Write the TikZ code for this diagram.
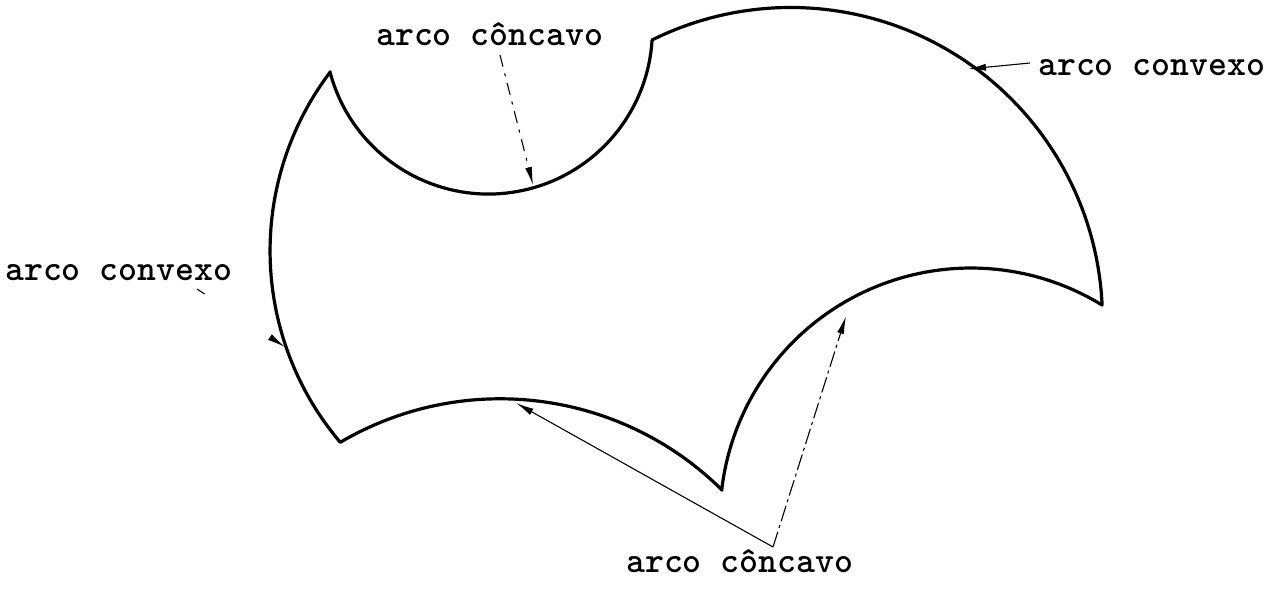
\documentclass[tikz,border=0pt]{standalone}
\usetikzlibrary{arrows.meta}
\begin{document}
\begin{tikzpicture}[x=1pt,y=1pt,
  outline/.style={line width=3.2pt, line join=round},
  leader/.style={line width=1.1pt, -{Latex[length=18pt,width=7pt]}},
  lbl/.style={font=\fontsize{36}{40}\selectfont\ttfamily\bfseries, inner sep=0pt, anchor=base west}]
\useasboundingbox (0,0) rectangle (1281,590);
% vertices of the figure
\coordinate (A) at (330,518);
\coordinate (B) at (652,550);
\coordinate (C) at (1102,285);
\coordinate (D) at (722,100);
\coordinate (E) at (340,148);
\draw[outline] (A) arc[start angle=194.8, end angle=356.5, radius=163.9]
  -- (B) arc[start angle=116.4, end angle=2.6, radius=311.8]
  -- (C) arc[start angle=58.5, end angle=173.4, radius=250.9]
  -- (D) arc[start angle=45.3, end angle=120.4, radius=315.4]
  -- (E) arc[start angle=220.2, end angle=142.8, radius=296.1]
  -- cycle;
% labels
\node[lbl] (t1) at (376,544) {arco côncavo};
\node[lbl] (t2) at (1038,514) {arco convexo};
\node[lbl] (t3) at (5,310) {arco convexo};
\node[lbl] (t4) at (626,18) {arco côncavo};
% leader points
\coordinate (s1) at (500,535);
\coordinate (e1) at (533,405);
\coordinate (s2) at (1030,527);
\coordinate (e2) at (968,521);
\coordinate (s3) at (197,301);
\coordinate (e3) at (285,243);
\coordinate (s4) at (773,43);
\coordinate (e4a) at (516,187);
\coordinate (e4b) at (846,274);
\draw[leader, dash pattern=on 12pt off 7pt on 3pt off 7pt] (s1) -- (e1);
\draw[leader] (s2) -- (e2);
\draw[leader, dash pattern=on 9pt off 300pt] (s3) -- (e3);
\draw[leader] (s4) -- (e4a);
\draw[leader, dash pattern=on 16pt off 4pt on 3pt off 4pt] (s4) -- (e4b);
\end{tikzpicture}
\end{document}
